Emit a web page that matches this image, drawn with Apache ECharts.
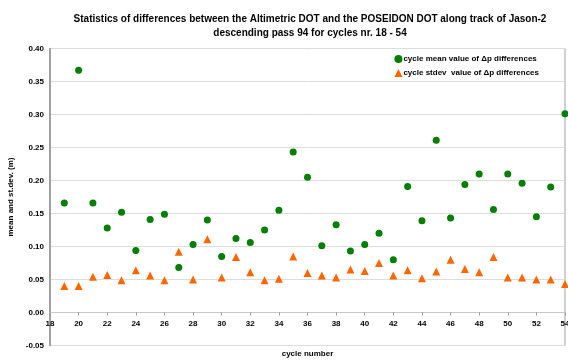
<!DOCTYPE html>
<html>
<head>
<meta charset="utf-8">
<script src="https://cdn.jsdelivr.net/npm/echarts@6/dist/echarts.min.js"></script>
<style>html,body{margin:0;padding:0;background:#fff;}#c{width:568px;height:363px;}</style>
</head>
<body>
<div id="c"></div>
<script>
const cycles = [19,20,21,22,23,24,25,26,27,28,29,30,31,32,33,34,35,36,37,38,39,40,41,42,43,44,45,46,47,48,49,50,51,52,53,54];
const meanValues = [0.166,0.367,0.166,0.128,0.152,0.094,0.141,0.149,0.068,0.103,0.140,0.085,0.112,0.106,0.125,0.155,0.243,0.205,0.101,0.133,0.093,0.103,0.120,0.080,0.191,0.139,0.261,0.143,0.194,0.210,0.156,0.210,0.196,0.145,0.190,0.301];
const stdevValues = [0.040,0.040,0.054,0.057,0.049,0.064,0.056,0.049,0.092,0.050,0.111,0.053,0.084,0.061,0.049,0.051,0.085,0.060,0.056,0.053,0.065,0.063,0.075,0.056,0.064,0.052,0.062,0.080,0.066,0.061,0.084,0.053,0.053,0.050,0.050,0.043];
const yTicks = [-0.05,0,0.05,0.10,0.15,0.20,0.25,0.30,0.35,0.40];
const seriesNames = ['cycle mean value of \u0394p differences','cycle stdev  value of \u0394p differences'];
const titleText = 'Statistics of differences between the Altimetric DOT and the POSEIDON DOT along track of Jason-2\ndescending pass 94 for cycles nr. 18 - 54';

const chart = echarts.init(document.getElementById('c'), null, {renderer:'canvas'});
const font = 'Liberation Sans, Arial, sans-serif';
chart.setOption({
  animation:false,
  backgroundColor:'#fff',
  title:{
    text:titleText,
    left:305, top:7, textAlign:'center',
    textStyle:{fontFamily:font,fontSize:10,fontWeight:'bold',color:'#000',lineHeight:14}
  },
  legend:{
    right:24, top:50, orient:'vertical', itemGap:6,
    itemWidth:8, itemHeight:8,
    textStyle:{fontFamily:font,fontSize:8,fontWeight:'bold',color:'#000',padding:[0,0,0,-4]},
    data:[{name:seriesNames[0],icon:'circle'},{name:seriesNames[1],icon:'triangle'}]
  },
  grid:{left:50,right:3,top:48.5,bottom:17.5,show:true,borderColor:'#a0a0a0',borderWidth:1,
        containLabel:false,outerBoundsMode:'none'},
  xAxis:{
    type:'value', min:18, max:54, interval:2, offset:-33,
    name:'cycle number', nameLocation:'middle', nameGap:37,
    nameTextStyle:{fontFamily:font,fontSize:8,fontWeight:'bold',color:'#000'},
    axisLine:{onZero:false,lineStyle:{color:'#c8c8c8',width:1}},
    axisTick:{show:true,length:3,lineStyle:{color:'#999'}},
    axisLabel:{fontFamily:font,fontSize:8,fontWeight:'bold',color:'#000',margin:7},
    splitLine:{show:false}
  },
  yAxis:{
    type:'value', min:-0.05, max:0.40, interval:0.05,
    name:'mean and st.dev. (m)', nameLocation:'middle', nameGap:29, nameRotate:90,
    nameTextStyle:{fontFamily:font,fontSize:8,fontWeight:'bold',color:'#000'},
    axisLine:{show:true,lineStyle:{color:'#909090',width:1.5}},
    axisTick:{show:false},
    axisLabel:{fontFamily:font,fontSize:8,fontWeight:'bold',color:'#000',margin:6,
      formatter:v=>{const t=yTicks.find(k=>Math.abs(k-v)<1e-9);return (t!==undefined?t:v).toFixed(2);}},
    splitLine:{show:true,lineStyle:{color:'#dcdcdc',width:1}}
  },
  series:[
    {name:seriesNames[0],type:'scatter',symbol:'circle',symbolSize:7,
     itemStyle:{color:'#007f00',opacity:1},data:cycles.map((c,i)=>[c,meanValues[i]]),z:3},
    {name:seriesNames[1],type:'scatter',symbol:'triangle',symbolSize:8,
     itemStyle:{color:'#ff6600',opacity:1},data:cycles.map((c,i)=>[c,stdevValues[i]]),z:2}
  ]
});
</script>
</body>
</html>
